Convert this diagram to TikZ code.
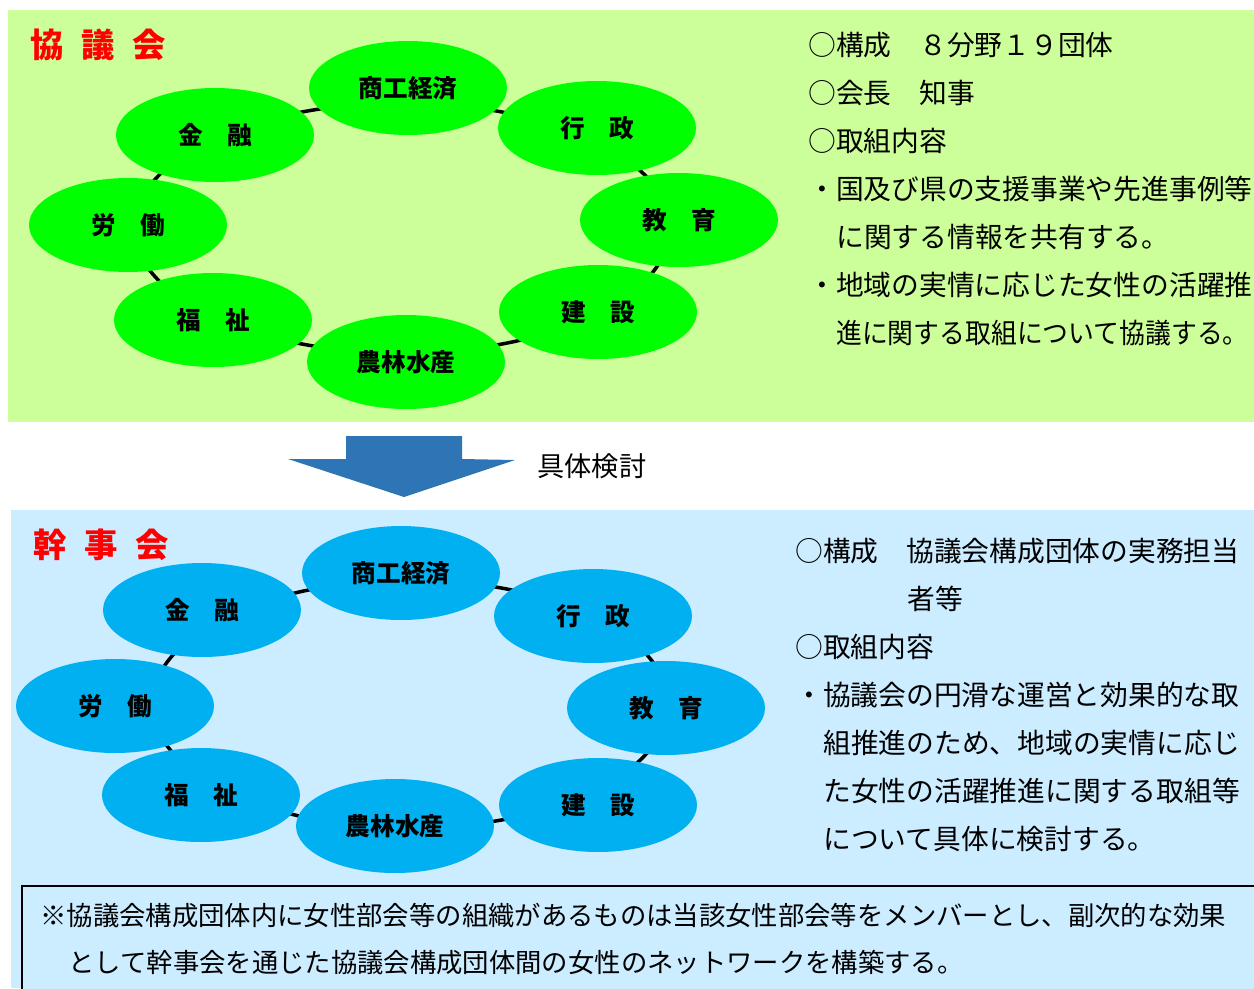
\documentclass[tikz,border=0pt]{standalone}
\usepackage{fontspec}
\setmainfont{Noto Sans CJK JP}
\usetikzlibrary{shapes.geometric}
\definecolor{kyogiBg}{RGB}{204,255,153}
\definecolor{kyogiNode}{RGB}{0,255,0}
\definecolor{kanjiBg}{RGB}{204,236,255}
\definecolor{kanjiNode}{RGB}{0,176,240}
\definecolor{arrowBlue}{RGB}{46,117,182}
\tikzset{
  member/.style={ellipse,minimum width=3.96cm,minimum height=1.88cm,inner sep=0pt,
    font=\fontsize{14}{16}\selectfont\bfseries},
  paneltitle/.style={anchor=west,inner sep=0pt,text=red,font=\fontsize{19}{22}\selectfont\bfseries},
  bodyline/.style={anchor=west,inner sep=0pt,font=\fontsize{15.8}{19}\selectfont},
  noteline/.style={anchor=west,inner sep=0pt,font=\fontsize{15}{18}\selectfont},
  ring/.style={line width=2pt}
}
\begin{document}
\begin{tikzpicture}[x=0.02cm,y=-0.02cm]
    \useasboundingbox (0,0) rectangle (1254,988);
    \fill[kyogiBg] (8,10) rectangle (1254,422);
    \fill[kanjiBg] (11,510) rectangle (1254,988);
    \node[paneltitle] (kyogiTitle) at (30,45) {協\hspace{10pt}議\hspace{10pt}会};
    \node[paneltitle] (kanjiTitle) at (33,545) {幹\hspace{10pt}事\hspace{10pt}会};
    \coordinate (kyogiRing) at (402,228);
    \coordinate (kanjiRing) at (410,704);
    \draw[ring] (kyogiRing) ellipse [x radius=268,y radius=125];
    \draw[ring] (kanjiRing) ellipse [x radius=258,y radius=124];
    \foreach \nm/\x/\y/\txt in {shoko/408/88/商工経済,gyosei/597/128/行　政,kyoiku/679/220/教　育,
      kensetsu/598/312/建　設,norin/406/362/農林水産,fukushi/213/320/福　祉,rodo/128/225/労　働,kinyu/215/135/金　融}
      \node[member,fill=kyogiNode] (g\nm) at (\x,\y) {\txt};
    \foreach \nm/\x/\y/\txt in {shoko/401/573/商工経済,gyosei/593/616/行　政,kyoiku/666/708/教　育,
      kensetsu/598/805/建　設,norin/395/826/農林水産,fukushi/201/795/福　祉,rodo/115/706/労　働,kinyu/202/610/金　融}
      \node[member,fill=kanjiNode] (k\nm) at (\x,\y) {\txt};
    \foreach \x/\y/\txt in {808/45/○構成　８分野１９団体,808/93/○会長　知事,808/141/○取組内容,
      808/189/・国及び県の支援事業や先進事例等,836/237/に関する情報を共有する。,
      808/285/・地域の実情に応じた女性の活躍推}
      \node[bodyline] at (\x,\y) {\txt};
    \node[bodyline] (kyogiLast) at (836,333) {\scalebox{0.93}[1]{進に関する取組について協議する。}};
    \foreach \x/\y/\txt in {795/551/○構成　協議会構成団体の実務担当,907/599/者等,795/647/○取組内容,
      795/695/・協議会の円滑な運営と効果的な取,823/743/組推進のため、地域の実情に応じ,
      823/791/た女性の活躍推進に関する取組等,823/839/について具体に検討する。}
      \node[bodyline] at (\x,\y) {\txt};
    \fill[arrowBlue] (346,436) -- (462,436) -- (462,459) -- (515,460) -- (404,497) -- (288,459) -- (346,459) -- cycle;
    \node[anchor=west,inner sep=0pt,font=\fontsize{15.5}{18}\selectfont] (kento) at (537,466) {具体検討};
    \draw[line width=1.1pt,fill=kanjiBg] (22,886) rectangle (1258,992);
    \node[noteline] (note1) at (40,915) {※協議会構成団体内に女性部会等の組織があるものは当該女性部会等をメンバーとし、副次的な効果};
    \node[noteline] (note2) at (68,963) {として幹事会を通じた協議会構成団体間の女性のネットワークを構築する。};
  \end{tikzpicture}
\end{document}
